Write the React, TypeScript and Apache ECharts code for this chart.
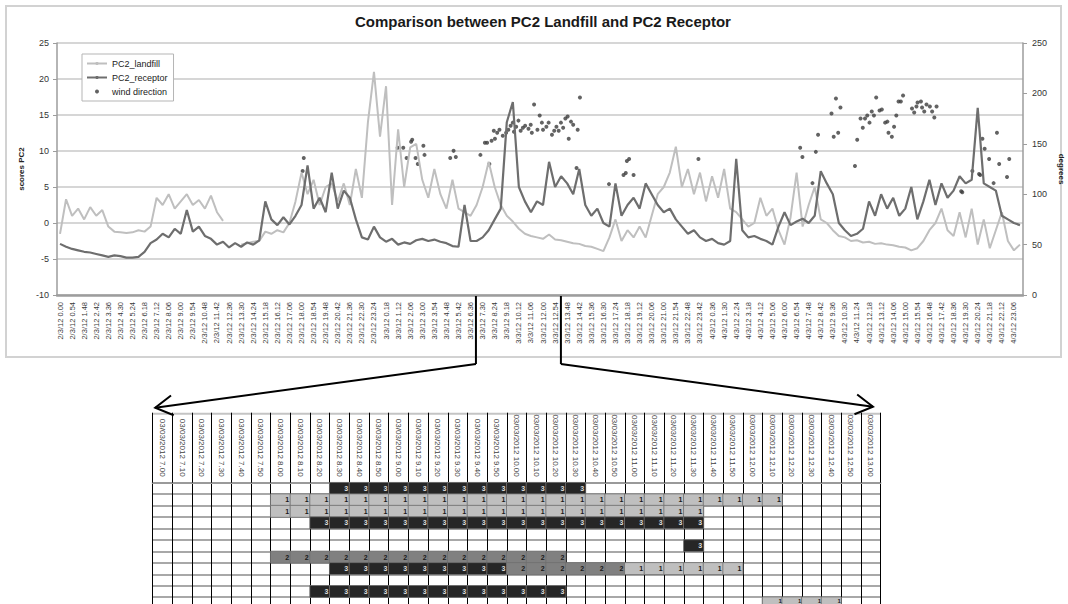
import React, { useEffect, useRef } from "react";
import * as echarts from "echarts";

const FONT = '"Liberation Sans", Arial, sans-serif';
const TITLE = "Comparison between PC2 Landfill and PC2 Receptor";
const STEP = 27; // minutes between plotted samples, from 2/3/12 0.00

// PC2 scores (left axis)
const landfill: (number | null)[] = [
  -1.5, 3.3, 1.0, 2.0, 0.5, 2.2, 1.0, 1.8, -0.5, -1.2,
  -1.3, -1.4, -1.3, -1.0, -1.2, -0.5, 3.5, 2.5, 4.0, 2.0,
  3.0, 4.0, 2.5, 3.2, 2.0, 3.8, 1.5, 0.3, null, null,
  -3.0, -2.8, -2.6, -2.5, -1.2, -1.5, -1.0, -1.3, 0.0, 3.0,
  7.0, 4.0, 6.0, 2.5, 5.0, 5.5, 3.0, 5.5, 2.5, 7.5,
  3.5, 14.0, 21.0, 12.0, 19.0, 2.5, 13.0, 5.0, 10.5, 11.0,
  6.0, 3.5, 7.5, 4.0, 2.0, 6.0, 2.0, 1.5, 1.0, 2.5,
  5.0, 8.5, 5.0, 2.5, 1.0, 0.2, -0.8, -1.5, -1.8, -2.0,
  -2.2, -1.6, -2.3, -2.4, -2.6, -2.8, -2.9, -3.2, -3.3, -3.6,
  -3.9, -2.0, 0.5, -2.5, -1.0, -2.0, -0.5, -2.0, 1.0, 4.0,
  5.0, 7.0, 10.6, 5.0, 7.5, 4.0, 7.0, 3.0, 6.5, 3.5,
  7.5, 2.0, 1.5, 0.5, -0.5, 0.0, 3.5, 1.0, 2.0, -1.0,
  -3.0, 0.8, 7.0, -0.5, 2.5, 5.0, 0.5, 0.0, -1.0, -1.8,
  -2.0, -2.5, -2.4, -2.7, -2.6, -2.9, -2.8, -3.0, -3.1, -3.3,
  -3.4, -3.8, -3.5, -2.5, -1.0, 0.0, 2.0, -1.0, -1.8, 1.5,
  -2.0, 2.0, -3.0, 0.5, -3.5, -1.0, 1.5, -2.5, -3.8, -3.0,
];

const receptor: number[] = [
  -2.9, -3.3, -3.6, -3.8, -4.0, -4.1, -4.3, -4.5, -4.7, -4.5,
  -4.6, -4.8, -4.8, -4.7, -4.0, -2.8, -2.3, -1.5, -2.0, -0.8,
  -1.5, 1.8, -1.2, -0.5, -1.8, -2.2, -3.0, -2.6, -3.4, -2.8,
  -3.3, -2.7, -3.0, -2.4, 3.0, 0.5, -0.3, 0.8, -0.2, 1.0,
  2.5, 8.0, 2.0, 3.5, 1.5, 7.0, 2.0, 4.5, 3.5, 0.5,
  -2.0, -2.3, -0.5, -2.0, -2.6, -2.2, -3.0, -2.7, -2.9, -2.4,
  -2.2, -2.5, -2.3, -2.6, -2.8, -3.2, -3.3, 2.5, -2.5, -2.5,
  -2.0, -1.0, 0.5, 2.0, 14.0, 16.8, 5.0, 3.0, 1.5, 3.0,
  2.5, 8.5, 5.0, 6.5, 5.5, 4.0, 7.5, 2.5, 1.0, 2.0,
  0.0, -0.5, 5.5, 1.0, 2.5, 3.5, 2.0, 5.5, 4.0, 2.5,
  1.5, 2.0, 0.5, -0.5, -1.5, -1.0, -2.0, -2.5, -2.2, -2.8,
  -3.0, -2.5, 8.9, -1.0, -2.0, -1.8, -2.2, -2.5, -3.0, -0.5,
  1.5, -0.3, 0.2, 0.6, 0.0, 1.0, 7.2, 5.5, 4.0, 0.0,
  -1.0, -1.8, -1.5, -0.8, 3.0, 1.0, 4.0, 2.0, 3.5, 1.0,
  2.0, 5.0, 0.5, 3.0, 6.0, 2.5, 5.5, 3.5, 4.5, 6.5,
  5.5, 6.0, 16.0, 5.5, 5.0, 4.5, 1.0, 0.5, 0.0, -0.3,
];

// wind direction (right axis): minutes since 2/3/12 0.00, degrees
const windMinutes: number[] = [
  1085, 1090, 1510, 1535, 1550, 1570, 1575, 1590, 1600, 1625,
  1630, 1745, 1760, 1770, 1880, 1900, 1910, 1920, 1930, 1940,
  1945, 1955, 1965, 1980, 1995, 2005, 2015, 2025, 2030, 2040,
  2050, 2060, 2070, 2080, 2095, 2105, 2110, 2120, 2135, 2145,
  2155, 2160, 2175, 2185, 2200, 2210, 2220, 2230, 2240, 2250,
  2260, 2270, 2275, 2285, 2295, 2310, 2315, 2325, 2455, 2520,
  2530, 2535, 2545, 2565, 2855, 3310, 3320, 3365, 3380, 3390,
  3450, 3460, 3470, 3480, 3490, 3555, 3565, 3580, 3590, 3600,
  3610, 3620, 3630, 3640, 3650, 3665, 3675, 3690, 3700, 3705,
  3720, 3730, 3740, 3750, 3760, 3770, 3810, 3820, 3830, 3835,
  3850, 3855, 3865, 3875, 3890, 3900, 3910, 3920, 4030, 4035,
  4080, 4110, 4115, 4125, 4135, 4155, 4175, 4190, 4200, 4235,
  4245,
];
const windDeg: number[] = [
  123, 136, 146, 146, 136, 152, 154, 136, 130, 148,
  139, 136, 143, 137, 139, 151, 151, 130, 153, 163,
  155, 161, 164, 158, 161, 164, 168, 171, 162, 167,
  173, 163, 166, 168, 165, 169, 161, 189, 164, 178,
  171, 164, 167, 171, 159, 163, 167, 163, 171, 166,
  175, 177, 155, 172, 169, 126, 164, 196, 110, 119,
  121, 133, 135, 119, 135, 146, 137, 111, 142, 159,
  180, 157, 195, 161, 186, 128, 154, 175, 166, 175,
  178, 171, 182, 178, 196, 183, 184, 171, 172, 161,
  157, 167, 178, 192, 192, 198, 185, 181, 187, 191,
  192, 186, 182, 189, 187, 182, 176, 187, 103, 102,
  123, 120, 119, 155, 145, 135, 111, 161, 130, 117,
  135,
];

// zoomed window: 03/03/2012 7.00 .. 13.00, every 10 minutes
const tableStartMin = 7 * 60;
const tableStepMin = 10;
const tableCols = 37;
const tableRows: number[][] = [
  [0,0,0,0,0,0,0,0,0,3,3,3,3,3,3,3,3,3,3,3,3,3,0,0,0,0,0,0,0,0,0,0,0,0,0,0,0],
  [0,0,0,0,0,0,1,1,1,1,1,1,1,1,1,1,1,1,1,1,1,1,1,1,1,1,1,1,1,1,1,1,0,0,0,0,0],
  [0,0,0,0,0,0,1,1,1,1,1,1,1,1,1,1,1,1,1,1,1,1,1,1,1,1,1,1,0,0,0,0,0,0,0,0,0],
  [0,0,0,0,0,0,0,0,3,3,3,3,3,3,3,3,3,3,3,3,3,3,3,3,3,3,3,3,0,0,0,0,0,0,0,0,0],
  [0,0,0,0,0,0,0,0,0,0,0,0,0,0,0,0,0,0,0,0,0,0,0,0,0,0,0,0,0,0,0,0,0,0,0,0,0],
  [0,0,0,0,0,0,0,0,0,0,0,0,0,0,0,0,0,0,0,0,0,0,0,0,0,0,0,3,0,0,0,0,0,0,0,0,0],
  [0,0,0,0,0,0,2,2,2,2,2,2,2,2,2,2,2,2,2,2,2,0,0,0,0,0,0,0,0,0,0,0,0,0,0,0,0],
  [0,0,0,0,0,0,0,0,0,3,3,3,3,3,3,3,3,3,2,2,2,2,2,2,1,1,1,1,1,1,0,0,0,0,0,0,0],
  [0,0,0,0,0,0,0,0,0,0,0,0,0,0,0,0,0,0,0,0,0,0,0,0,0,0,0,0,0,0,0,0,0,0,0,0,0],
  [0,0,0,0,0,0,0,0,3,3,3,3,3,3,3,3,3,3,3,3,3,0,0,0,0,0,0,0,0,0,0,0,0,0,0,0,0],
  [0,0,0,0,0,0,0,0,0,0,0,0,0,0,0,0,0,0,0,0,0,0,0,0,0,0,0,0,0,0,0,1,1,1,1,0,0],
];
const cellFill: Record<number, string> = { 1: "#bfbfbf", 2: "#808080", 3: "#262626" };
const cellText: Record<number, string> = { 1: "#1a1a1a", 2: "#1a1a1a", 3: "#dcdcdc" };

// zoomed window marked on the time axis
const markStartMin = 24 * 60 + 7 * 60;
const markEndMin = 24 * 60 + 13 * 60 + 20;

const pad2 = (n: number) => String(n).padStart(2, "0");
const fmtTime = (min: number) => {
  const day = 2 + Math.floor(min / 1440);
  const rem = min % 1440;
  return `${day}/3/12 ${Math.floor(rem / 60)}.${pad2(rem % 60)}`;
};
const fmtHeader = (min: number) => `03/03/2012 ${Math.floor(min / 60)}.${pad2(min % 60)}`;

const timeLabels = landfill.map((_, i) => fmtTime(i * STEP));
const headerLabels = Array.from({ length: tableCols }, (_, k) => fmtHeader(tableStartMin + k * tableStepMin));
const rowNames = tableRows.map((_, r) => `r${r}`);

// layout
const G0 = { left: 57, top: 43, width: 966, height: 252 };
const COL_W = 19.67;
const ROW_H = 11.45;
const T = { left: 152.7, top: 482.7, width: COL_W * tableCols, height: ROW_H * tableRows.length };
const HEADER_H = 70;

function arrow(x0: number, y0: number, x1: number, y1: number) {
  const ang = Math.atan2(y0 - y1, x0 - x1);
  const L = 20;
  const th = Math.PI / 6;
  const a = [x1 + L * Math.cos(ang - th), y1 + L * Math.sin(ang - th)];
  const b = [x1 + L * Math.cos(ang + th), y1 + L * Math.sin(ang + th)];
  return [
    { type: "line", silent: true, z: 50, shape: { x1: x0, y1: y0, x2: x1, y2: y1 }, style: { stroke: "#000", lineWidth: 2 } },
    { type: "polyline", silent: true, z: 50, shape: { points: [a, [x1, y1], b] }, style: { stroke: "#000", lineWidth: 2, fill: "none" } },
  ];
}

export default function App() {
  const ref = useRef<HTMLDivElement>(null);
  useEffect(() => {
    document.body.style.margin = "0";
    const chart = echarts.init(ref.current!, null, { renderer: "svg" });

    const lastRow = tableRows.length - 1;
    const heatData: any[] = [];
    tableRows.forEach((row, r) =>
      row.forEach((v, c) => {
        if (v > 0)
          heatData.push({
            value: [c, r, v],
            label:
              r === lastRow
                ? { color: cellText[v], position: "insideTopRight", distance: 1, fontSize: 6 }
                : { color: cellText[v] },
          });
      })
    );

    const option: any = {
      animation: false,
      textStyle: { fontFamily: FONT },
      title: {
        text: TITLE,
        left: 355,
        top: 14,
        padding: 0,
        textStyle: { fontSize: 15, fontWeight: "bold", color: "#1a1a1a", fontFamily: FONT },
      },
      legend: {
        orient: "vertical",
        left: 82,
        top: 54,
        padding: [5, 6, 5, 4],
        itemGap: 5,
        itemWidth: 20,
        itemHeight: 4,
        borderColor: "#b5b5b5",
        borderWidth: 1,
        backgroundColor: "#fff",
        textStyle: { fontSize: 9, color: "#222", fontFamily: FONT },
        data: [{ name: "PC2_landfill" }, { name: "PC2_receptor" }, { name: "wind direction" }],
      },
      visualMap: {
        type: "piecewise",
        show: false,
        seriesIndex: 3,
        dimension: 2,
        pieces: [
          { value: 1, color: cellFill[1] },
          { value: 2, color: cellFill[2] },
          { value: 3, color: cellFill[3] },
        ],
      },
      grid: [
        { ...G0, containLabel: false, outerBoundsMode: "none" },
        { ...T, containLabel: false, outerBoundsMode: "none" },
      ],
      xAxis: [
        {
          type: "category",
          gridIndex: 0,
          data: timeLabels,
          boundaryGap: true,
          axisLine: { show: true, onZero: false, lineStyle: { color: "#9d9d9d", width: 2.5 } },
          axisTick: { show: false },
          axisLabel: { interval: 1, rotate: 90, fontSize: 7.5, color: "#3a3a3a", margin: 7, fontFamily: FONT },
          splitLine: { show: false },
        },
        {
          type: "value",
          gridIndex: 0,
          min: -STEP / 2,
          max: (landfill.length - 0.5) * STEP,
          show: false,
          axisLine: { onZero: false },
        },
        {
          type: "category",
          gridIndex: 1,
          position: "top",
          data: headerLabels,
          boundaryGap: true,
          axisLine: { show: true, onZero: false, lineStyle: { color: "#9a9a9a", width: 2 } },
          axisTick: { show: true, interval: 0, length: HEADER_H, lineStyle: { color: "#000", width: 1 } },
          axisLabel: { interval: 0, rotate: 90, fontSize: 8, color: "#404040", margin: 6, fontFamily: FONT },
          splitLine: { show: true, interval: 0, lineStyle: { color: "#000", width: 1 } },
        },
      ],
      yAxis: [
        {
          type: "value",
          gridIndex: 0,
          min: -10,
          max: 25,
          interval: 5,
          name: "scores PC2",
          nameLocation: "middle",
          nameGap: 31,
          nameRotate: 90,
          nameTextStyle: { fontSize: 8, fontWeight: "bold", color: "#222", fontFamily: FONT },
          axisLine: { show: true, onZero: false, lineStyle: { color: "#9d9d9d", width: 1.5 } },
          axisTick: { show: true, length: 4, lineStyle: { color: "#9d9d9d" } },
          axisLabel: { fontSize: 9, color: "#333", margin: 8, fontFamily: FONT },
          splitLine: { show: true, lineStyle: { color: "#c8c8c8", width: 1.5 } },
        },
        {
          type: "value",
          gridIndex: 0,
          position: "right",
          min: 0,
          max: 250,
          interval: 50,
          name: "degrees",
          nameLocation: "middle",
          nameGap: 31,
          nameRotate: -90,
          nameTextStyle: { fontSize: 8, fontWeight: "bold", color: "#222", fontFamily: FONT },
          axisLine: { show: true, onZero: false, lineStyle: { color: "#9d9d9d", width: 1.5 } },
          axisTick: { show: true, length: 4, lineStyle: { color: "#9d9d9d" } },
          axisLabel: { fontSize: 9, color: "#333", margin: 9, fontFamily: FONT },
          splitLine: { show: false },
        },
        {
          type: "category",
          gridIndex: 1,
          inverse: true,
          data: rowNames,
          axisLine: { show: false },
          axisTick: { show: false },
          axisLabel: { show: false },
          splitLine: { show: true, interval: 0, lineStyle: { color: "#a8a8a8", width: 2 } },
        },
      ],
      series: [
        {
          name: "PC2_landfill",
          type: "line",
          xAxisIndex: 1,
          yAxisIndex: 0,
          symbol: "none",
          connectNulls: false,
          lineStyle: { color: "#bfbfbf", width: 2 },
          itemStyle: { color: "#bfbfbf" },
          data: landfill.map((v, i) => [i * STEP, v === null ? "-" : v]),
        },
        {
          name: "PC2_receptor",
          type: "line",
          xAxisIndex: 1,
          yAxisIndex: 0,
          symbol: "none",
          lineStyle: { color: "#6e6e6e", width: 2.2 },
          itemStyle: { color: "#6e6e6e" },
          data: receptor.map((v, i) => [i * STEP, v]),
        },
        {
          name: "wind direction",
          type: "scatter",
          xAxisIndex: 1,
          yAxisIndex: 1,
          symbol: "circle",
          symbolSize: 4,
          itemStyle: { color: "#3c3c3c" },
          data: windMinutes.map((t, k) => [t, windDeg[k]]),
        },
        {
          type: "heatmap",
          xAxisIndex: 2,
          yAxisIndex: 2,
          itemStyle: { borderColor: "#707070", borderWidth: 0.8 },
          label: {
            show: true,
            position: "insideRight",
            distance: 2,
            fontSize: 7,
            fontWeight: "bold",
            fontFamily: FONT,
            formatter: (p: any) => String(p.value[2]),
          },
          data: heatData,
        },
      ],
    };
    chart.setOption(option);

    const xs = chart.convertToPixel({ xAxisIndex: 1 }, markStartMin) as number;
    const xe = chart.convertToPixel({ xAxisIndex: 1 }, markEndMin) as number;
    const yAxisBottom = chart.convertToPixel({ yAxisIndex: 0 }, -10) as number;
    const headerTop = T.top - HEADER_H;
    const kneeY = 364;
    const leftTip = [T.left + 2.5, headerTop - 5];
    const rightTip = [T.left + T.width - 7.5, headerTop - 6];

    chart.setOption({
      graphic: [
        {
          type: "rect",
          silent: true,
          z: -10,
          shape: { x: 6, y: 6, width: 1055, height: 351 },
          style: { fill: "none", stroke: "#d2d2d2", lineWidth: 2 },
        },
        {
          type: "line",
          silent: true,
          shape: { x1: T.left, y1: headerTop + 1, x2: T.left + T.width, y2: headerTop + 1 },
          style: { stroke: "#c4c4c4", lineWidth: 2 },
        },
        { type: "line", silent: true, z: 50, shape: { x1: xs, y1: yAxisBottom + 1, x2: xs, y2: kneeY }, style: { stroke: "#000", lineWidth: 2 } },
        { type: "line", silent: true, z: 50, shape: { x1: xe, y1: yAxisBottom + 1, x2: xe, y2: kneeY }, style: { stroke: "#000", lineWidth: 2 } },
        ...arrow(xs, kneeY, leftTip[0], leftTip[1]),
        ...arrow(xe, kneeY, rightTip[0], rightTip[1]),
      ],
    });

    return () => chart.dispose();
  }, []);
  return <div ref={ref} style={{ width: 1068, height: 604 }} />;
}
